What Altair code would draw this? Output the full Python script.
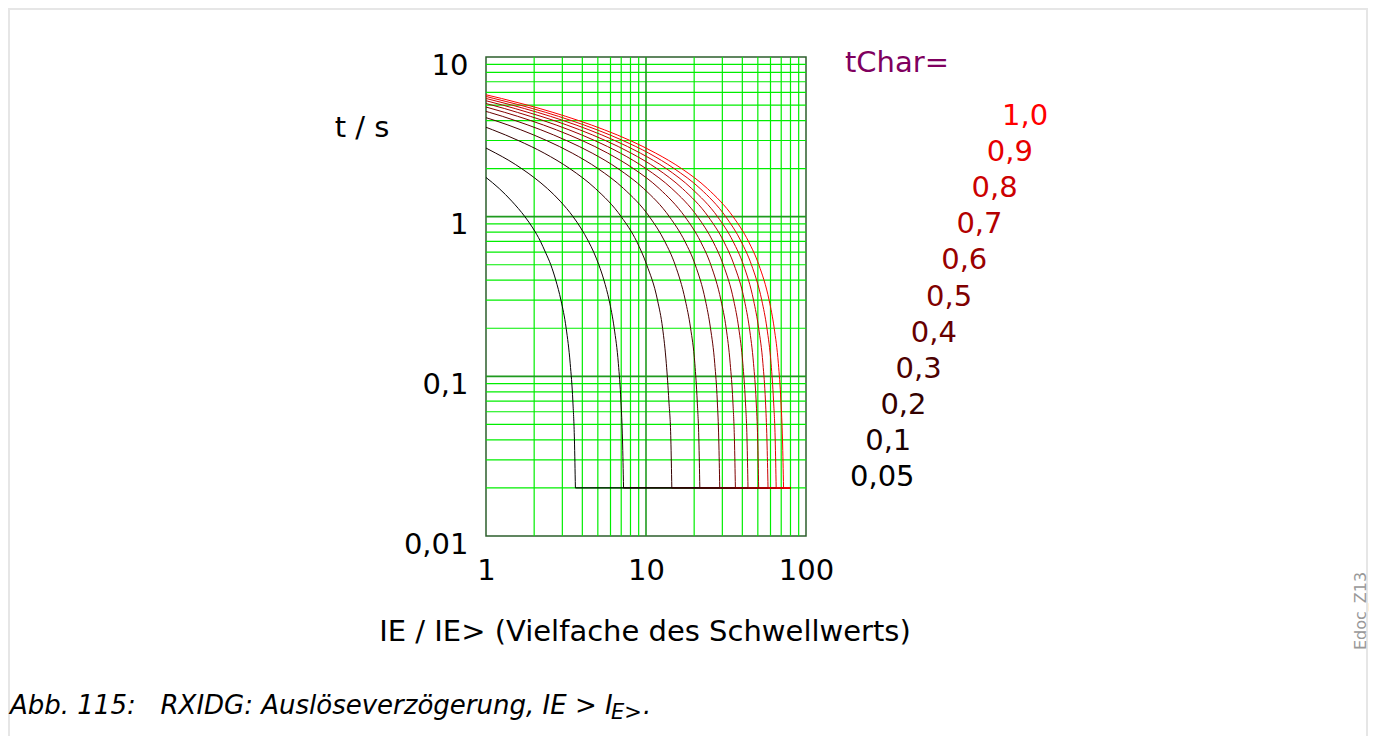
import altair as alt
import pandas as pd

# ---------------- data ----------------
T_CHAR = ["0,05", "0,1", "0,2", "0,3", "0,4", "0,5", "0,6", "0,7", "0,8", "0,9", "1,0"]
COLORS = ["#000000", "#1a0000", "#330000", "#4d0000", "#660000", "#800000",
          "#990000", "#b30000", "#cc0000", "#e60000", "#ff0000"]

X_005 = [1, 1.21, 1.45, 1.75, 1.96, 2.19, 2.35, 2.54, 2.73, 2.94, 3.17, 3.36, 3.49, 3.57, 3.62]
T_005 = [1.76, 1.5, 1.25, 1.0, 0.85, 0.7, 0.6, 0.5, 0.4, 0.3, 0.2, 0.12, 0.07, 0.04, 0.02]

X_01 = [1, 1.15, 1.39, 1.67, 2.01, 2.42, 2.91, 3.50, 3.91, 4.37, 4.71, 5.07, 5.46, 5.88, 6.33, 6.72, 6.97, 7.13, 7.24]
T_01 = [2.69, 2.5, 2.25, 2.0, 1.75, 1.5, 1.25, 1.0, 0.85, 0.7, 0.6, 0.5, 0.4, 0.3, 0.2, 0.12, 0.07, 0.04, 0.02]

X_02 = [1, 1.10, 1.59, 2.31, 3.34, 4.83, 7.00, 8.74, 10.1, 11.8, 12.7, 13.4, 13.9, 14.3, 14.5]
T_02 = [3.63, 3.5, 3.0, 2.5, 2.0, 1.5, 1.0, 0.7, 0.5, 0.3, 0.2, 0.12, 0.07, 0.04, 0.02]

X_03 = [1, 1.14, 1.65, 2.39, 3.46, 5.01, 7.25, 10.5, 13.1, 15.2, 17.6, 19.0, 20.2, 20.9, 21.4, 21.7]
T_03 = [4.17, 4.0, 3.5, 3.0, 2.5, 2.0, 1.5, 1.0, 0.7, 0.5, 0.3, 0.2, 0.12, 0.07, 0.04, 0.02]

X_04 = [1, 1.05, 1.52, 2.20, 3.18, 4.61, 6.68, 9.67, 14.0, 17.5, 20.3, 23.5, 25.3, 26.9, 27.9, 28.5, 28.9]
T_04 = [4.56, 4.5, 4.0, 3.5, 3.0, 2.5, 2.0, 1.5, 1.0, 0.7, 0.5, 0.3, 0.2, 0.12, 0.07, 0.04, 0.02]

X_05 = [1, 1.31, 1.90, 2.75, 3.98, 5.76, 8.35, 12.1, 17.5, 21.9, 25.4, 29.4, 31.7, 33.6, 34.9, 35.7, 36.2]
T_05 = [4.86, 4.5, 4.0, 3.5, 3.0, 2.5, 2.0, 1.5, 1.0, 0.7, 0.5, 0.3, 0.2, 0.12, 0.07, 0.04, 0.02]

X_06 = [1, 1.09, 1.57, 2.28, 3.30, 4.77, 6.92, 10.0, 14.5, 21.0, 26.2, 30.4, 35.3, 38.0, 40.3, 41.8, 42.8, 43.4]
T_06 = [5.11, 5.0, 4.5, 4.0, 3.5, 3.0, 2.5, 2.0, 1.5, 1.0, 0.7, 0.5, 0.3, 0.2, 0.12, 0.07, 0.04, 0.02]

X_07 = [1, 1.27, 1.83, 2.66, 3.85, 5.57, 8.07, 11.7, 16.9, 24.5, 30.6, 35.5, 41.2, 44.3, 47.0, 48.8, 49.9, 50.6]
T_07 = [5.32, 5.0, 4.5, 4.0, 3.5, 3.0, 2.5, 2.0, 1.5, 1.0, 0.7, 0.5, 0.3, 0.2, 0.12, 0.07, 0.04, 0.02]

X_08 = [1, 1.45, 2.10, 3.04, 4.40, 6.37, 9.22, 13.4, 19.3, 28.0, 35.0, 40.6, 47.0, 50.6, 53.8, 55.8, 57.0, 57.9]
T_08 = [5.50, 5.0, 4.5, 4.0, 3.5, 3.0, 2.5, 2.0, 1.5, 1.0, 0.7, 0.5, 0.3, 0.2, 0.12, 0.07, 0.04, 0.02]

X_09 = [1, 1.12, 1.63, 2.36, 3.41, 4.94, 7.16, 10.4, 15.0, 21.8, 31.5, 39.3, 45.6, 52.9, 57.0, 60.5, 62.7, 64.2, 65.1]
T_09 = [5.66, 5.5, 5.0, 4.5, 4.0, 3.5, 3.0, 2.5, 2.0, 1.5, 1.0, 0.7, 0.5, 0.3, 0.2, 0.12, 0.07, 0.04, 0.02]

X_10 = [1, 1.25, 1.81, 2.62, 3.79, 5.49, 7.96, 11.5, 16.7, 24.2, 35.0, 43.7, 50.7, 58.8, 63.3, 67.2, 69.7, 71.3, 72.4]
T_10 = [5.8, 5.5, 5.0, 4.5, 4.0, 3.5, 3.0, 2.5, 2.0, 1.5, 1.0, 0.7, 0.5, 0.3, 0.2, 0.12, 0.07, 0.04, 0.02]

CURVES_X = [X_005, X_01, X_02, X_03, X_04, X_05, X_06, X_07, X_08, X_09, X_10]
CURVES_T = [T_005, T_01, T_02, T_03, T_04, T_05, T_06, T_07, T_08, T_09, T_10]

X_END = 80
T_MIN = 0.02

X_GRID_MINOR = [2, 3, 4, 5, 6, 7, 8, 9, 20, 30, 40, 50, 60, 70, 80, 90]
X_GRID_MAJOR = [10]
Y_GRID_MINOR = [0.02, 0.03, 0.04, 0.05, 0.06, 0.07, 0.08, 0.09,
                0.2, 0.3, 0.4, 0.5, 0.6, 0.7, 0.8, 0.9,
                2, 3, 4, 5, 6, 7, 8, 9]
Y_GRID_MAJOR = [0.1, 1]
X_TICKS = [1, 10, 100]
Y_TICKS = [0.01, 0.1, 1, 10]

# ---------------- tables ----------------
rows = []
hrows = []
for ci, (name, xs_, ts_) in enumerate(zip(T_CHAR, CURVES_X, CURVES_T)):
    for j, (xv, tv) in enumerate(zip(xs_, ts_)):
        rows.append({"k": name, "ci": ci, "j": j, "x": xv, "t": tv})
    hrows.append({"k": name, "ci": ci, "x0": xs_[-1], "x1": X_END, "t": T_MIN})
curves_df = pd.DataFrame(rows)
hor_df = pd.DataFrame(hrows)
lab_df = pd.DataFrame({"k": T_CHAR, "i": list(range(len(T_CHAR)))})
one = pd.DataFrame({"a": [0]})

FONT = "DejaVu Sans"
FS = 29
xscale = alt.Scale(type="log", domain=[1, 100])
yscale = alt.Scale(type="log", domain=[0.01, 10])
cscale = alt.Scale(domain=T_CHAR, range=COLORS)

x_axis = alt.Axis(values=X_TICKS, labelExpr="format(datum.value, 'd')", title=None,
                  grid=False, ticks=False, domain=False, labelFont=FONT, labelFontSize=FS,
                  labelColor="black", labelPadding=20, labelFlush=False, labelOverlap=False)
y_axis = alt.Axis(values=Y_TICKS,
                  labelExpr="datum.value >= 1 ? format(datum.value, 'd') : replace(format(datum.value, '.2~f'), '.', ',')",
                  title=None, grid=False, ticks=False, domain=False, labelFont=FONT,
                  labelFontSize=FS, labelColor="black", labelPadding=18, labelFlush=False,
                  labelOverlap=False, labelOffset=8)


def X(f):
    return alt.X(f, type="quantitative", scale=xscale, axis=x_axis)


def Y(f):
    return alt.Y(f, type="quantitative", scale=yscale, axis=y_axis)


gx_minor = alt.Chart(pd.DataFrame({"v": X_GRID_MINOR})).mark_rule(color="#00ee00", strokeWidth=1.2).encode(x=X("v"))
gy_minor = alt.Chart(pd.DataFrame({"v": Y_GRID_MINOR})).mark_rule(color="#00ee00", strokeWidth=1.2).encode(y=Y("v"))
gx_major = alt.Chart(pd.DataFrame({"v": X_GRID_MAJOR})).mark_rule(color="#1f9a1f", strokeWidth=1.6).encode(x=X("v"))
gy_major = alt.Chart(pd.DataFrame({"v": Y_GRID_MAJOR})).mark_rule(color="#1f9a1f", strokeWidth=1.6).encode(y=Y("v"))

curves = alt.Chart(curves_df).mark_line(interpolate="monotone", strokeWidth=1, clip=True).encode(
    x=X("x"), y=Y("t"),
    color=alt.Color("k:N", scale=cscale, legend=None),
    order=alt.Order("j:Q"),
)
horiz = alt.Chart(hor_df).mark_rule(strokeWidth=1.2).encode(
    x=X("x0"), x2="x1", y=Y("t"),
    color=alt.Color("k:N", scale=cscale, legend=None),
)


def txt(s, x, y, size=FS, color="black", align="center", baseline="middle", style="normal", angle=0):
    kw = dict(align=align, baseline=baseline, font=FONT, fontSize=size, color=color, fontStyle=style)
    if angle:
        kw["angle"] = angle
    return alt.Chart(one).mark_text(**kw).encode(x=alt.value(x), y=alt.value(y), text=alt.value(s))


NB = "\u00a0"
border = alt.Chart(one).mark_rect(filled=False, stroke="#e6e6e6", strokeWidth=2).encode(
    x=alt.value(-477), x2=alt.value(881), y=alt.value(-48), y2=alt.value(720))

texts = alt.layer(
    border,
    txt("t / s", -124, 71),
    txt("IE / IE> (Vielfache des Schwellwerts)", 159, 575),
    txt("tChar=", 359, 6, color="#7f005f", align="left"),
    txt("Abb. 115:" + NB * 3 + "RXIDG: Auslöseverzögerung, IE > I", -476, 649, size=26, align="left", style="italic"),
    txt("E>", 125, 656, size=21, align="left", style="italic"),
    txt(".", 157, 649, size=26, align="left", style="italic"),
    txt("Edoc_Z13", 875, 554, size=16, color="#999999", angle=270),
)

inner = alt.layer(gx_minor, gy_minor, gx_major, gy_major, curves, horiz, texts)

labels = alt.Chart(lab_df).mark_text(align="left", baseline="middle", font=FONT, fontSize=FS).encode(
    x=alt.X("i:Q", scale=alt.Scale(domain=[0, 10], range=[364, 516]), axis=None),
    y=alt.Y("i:Q", scale=alt.Scale(domain=[0, 10], range=[420, 59]), axis=None),
    text="k:N",
    color=alt.Color("k:N", scale=cscale, legend=None),
)

chart = alt.layer(inner, labels).resolve_scale(x="independent", y="independent").properties(
    width=320, height=479,
    padding={"left": 478, "top": 49, "right": 563, "bottom": 200},
    autosize=alt.AutoSizeParams(type="none"),
).configure_view(stroke="#2d5f2d", strokeWidth=1.5)

chart.save("out.html", embed_options={"renderer": "svg", "actions": False})
